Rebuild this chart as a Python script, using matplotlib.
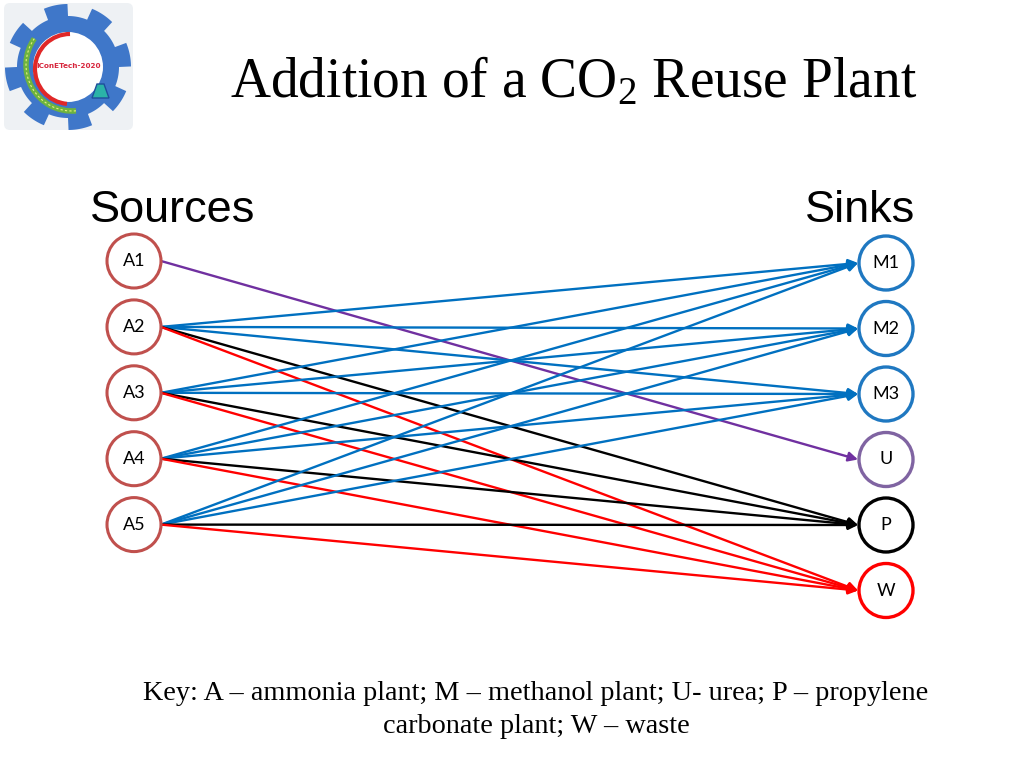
import numpy as np
import matplotlib
matplotlib.use("Agg")
import matplotlib.pyplot as plt
from matplotlib.patches import Circle, FancyArrowPatch, Polygon, FancyBboxPatch, Arc

plt.rcParams['mathtext.fontset'] = 'custom'
plt.rcParams['mathtext.rm'] = 'Liberation Serif'
plt.rcParams['mathtext.default'] = 'regular'

# ---- data ----
sources = ["A1", "A2", "A3", "A4", "A5"]
sinks = ["M1", "M2", "M3", "U", "P", "W"]
sink_colors = ["#1F78C1", "#1F78C1", "#1F78C1", "#8064A2", "#000000", "#FF0000"]
edge_from = ["A1",
             "A2", "A2", "A2", "A2", "A2",
             "A3", "A3", "A3", "A3", "A3",
             "A4", "A4", "A4", "A4", "A4",
             "A5", "A5", "A5", "A5", "A5"]
edge_to = ["U",
           "M1", "M2", "M3", "P", "W",
           "M1", "M2", "M3", "P", "W",
           "M1", "M2", "M3", "P", "W",
           "M1", "M2", "M3", "P", "W"]
edge_colors = {"M1": "#0070C0", "M2": "#0070C0", "M3": "#0070C0",
               "U": "#7030A0", "P": "#000000", "W": "#FF0000"}
source_color = "#C0504D"

# ---- layout ----
W, H = 1024, 768
fig = plt.figure(figsize=(W / 100, H / 100), dpi=100)
ax = fig.add_axes([0, 0, 1, 1])
ax.set_xlim(0, W)
ax.set_ylim(H, 0)
ax.axis("off")

x_src, x_snk = 134, 886
src_top, src_step = 261, 65.9
snk_top, snk_step = 263, 65.5
r = 27

src_pos = {s: (x_src, src_top + i * src_step) for i, s in enumerate(sources)}
snk_pos = {s: (x_snk, snk_top + i * snk_step) for i, s in enumerate(sinks)}

# edges
for a, b in zip(edge_from, edge_to):
    (x0, y0), (x1, y1) = src_pos[a], snk_pos[b]
    arr = FancyArrowPatch((x0 + r, y0), (x1 - r - 1, y1), arrowstyle="-|>",
                          mutation_scale=14, lw=1.7, color=edge_colors[b],
                          shrinkA=0, shrinkB=0, zorder=2)
    ax.add_patch(arr)

# nodes
for s in sources:
    x, y = src_pos[s]
    ax.add_patch(Circle((x, y), r, facecolor="white", edgecolor=source_color, lw=2.2, zorder=3))
    ax.text(x, y, s, ha="center", va="center", fontsize=13, family="Lato", zorder=4)
for s, c in zip(sinks, sink_colors):
    x, y = snk_pos[s]
    ax.add_patch(Circle((x, y), r, facecolor="white", edgecolor=c, lw=2.4, zorder=3))
    ax.text(x, y, s, ha="center", va="center", fontsize=13, family="Lato", zorder=4)

# texts
ax.text(574, 97, r"Addition of a CO$_2$ Reuse Plant", ha="center", va="baseline",
        fontsize=40, family="Liberation Serif")
ax.text(90, 222, "Sources", ha="left", va="baseline", fontsize=32.5, family="Liberation Sans")
ax.text(915, 222, "Sinks", ha="right", va="baseline", fontsize=32.5, family="Liberation Sans")
ax.text(536, 700, "Key: A \u2013 ammonia plant; M \u2013 methanol plant; U- urea; P \u2013 propylene",
        ha="center", va="baseline", fontsize=20.3, family="Liberation Serif")
ax.text(536, 733, "carbonate plant; W \u2013 waste",
        ha="center", va="baseline", fontsize=20.3, family="Liberation Serif")

# ---- logo (decorative) ----
ax.add_patch(FancyBboxPatch((4, 3), 129, 127, boxstyle="round,pad=0,rounding_size=6",
                            facecolor="#EEF1F4", edgecolor="none", zorder=1))
cx, cy = 68, 67
t = np.linspace(0, 2 * np.pi, 721)
rad = 51 + 12 * (np.cos(8 * (t + 0.2)) > 0.0)
gear = np.column_stack([cx + rad * np.cos(t), cy + rad * np.sin(t)])
ax.add_patch(Polygon(gear, closed=True, facecolor="#3F77C9", edgecolor="none", zorder=2))
ax.add_patch(Circle((cx, cy), 35, facecolor="white", edgecolor="none", zorder=2.1))
ax.add_patch(Arc((cx + 2, cy + 2), 70, 70, theta1=95, theta2=270, color="#E02828", lw=3, zorder=2.2))
ax.add_patch(Arc((cx + 4, cy - 2), 92, 92, theta1=85, theta2=215, color="#6DB33F", lw=4, zorder=2.2))
ax.add_patch(Arc((cx + 4, cy - 2), 92, 92, theta1=85, theta2=215, color="#E8F080", lw=0.8,
                 ls=(0, (2, 2)), zorder=2.3))
ax.add_patch(Polygon([[97, 84], [104, 84], [109, 98], [92, 98]], closed=True,
                     facecolor="#2BB3A8", edgecolor="#1E4E9C", lw=1, zorder=2.3))
ax.text(cx + 1, cy - 1, "IConETech-2020", ha="center", va="center", fontsize=5.2,
        color="#D7263D", weight="bold", family="DejaVu Sans", zorder=2.4)

fig.savefig("out.png", dpi=100)
